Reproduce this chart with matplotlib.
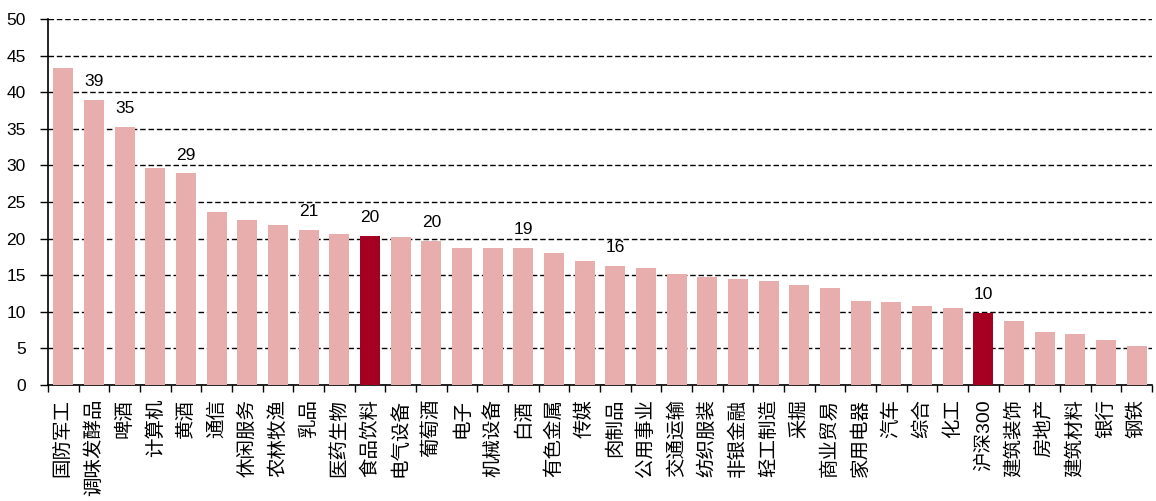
import matplotlib
matplotlib.use("Agg")
import matplotlib.pyplot as plt
from matplotlib import font_manager
import numpy as np

names = {f.name for f in font_manager.fontManager.ttflist}
if 'Liberation Sans Narrow' in names:
    num_font, num_size = 'Liberation Sans Narrow', 14
else:
    num_font, num_size = 'Liberation Sans', 12.5
plt.rcParams['font.family'] = [num_font, 'Noto Sans CJK SC']

# industry PE values
industries = ['国防军工', '调味发酵品', '啤酒', '计算机', '黄酒', '通信', '休闲服务', '农林牧渔',
              '乳品', '医药生物', '食品饮料', '电气设备', '葡萄酒', '电子', '机械设备', '白酒',
              '有色金属', '传媒', '肉制品', '公用事业', '交通运输', '纺织服装', '非银金融',
              '轻工制造', '采掘', '商业贸易', '家用电器', '汽车', '综合', '化工', '沪深300',
              '建筑装饰', '房地产', '建筑材料', '银行', '钢铁']
values = [43.3, 38.9, 35.2, 29.7, 28.9, 23.7, 22.5, 21.9, 21.2, 20.7, 20.4, 20.2, 19.7,
          18.7, 18.7, 18.7, 18.0, 17.0, 16.3, 16.0, 15.1, 14.8, 14.5, 14.2, 13.6, 13.3,
          11.5, 11.3, 10.8, 10.5, 9.8, 8.8, 7.3, 7.0, 6.1, 5.3]
highlight = ['食品饮料', '沪深300']
labelled = {'调味发酵品': '39', '啤酒': '35', '黄酒': '29', '乳品': '21', '食品饮料': '20',
            '葡萄酒': '20', '白酒': '19', '肉制品': '16', '沪深300': '10'}

fig = plt.figure(figsize=(11.56, 5.01), dpi=100)
ax = fig.add_axes([0.0415, 0.2315, 0.955, 0.7305])

x = np.arange(len(industries))
colors = ['#A50021' if n in highlight else '#E8ADAD' for n in industries]
ax.bar(x, values, width=0.66, color=colors, zorder=3)

for i, (n, v) in enumerate(zip(industries, values)):
    if n in labelled:
        ax.text(i, v + 1.5, labelled[n], ha='center', va='bottom', fontsize=num_size, zorder=4)

ax.set_ylim(0, 50)
ax.set_xlim(-0.5, len(industries) - 0.5)
ax.set_yticks(range(0, 51, 5))
ax.yaxis.grid(True, linestyle=(0, (4, 2)), color='black', linewidth=1.0, zorder=0)
ax.tick_params(axis='y', labelsize=num_size, length=6, width=1, direction='out', pad=10)

ax.set_xticks(x)
ax.set_xticklabels(industries, rotation=90, fontsize=14,
                   family=[num_font, 'Noto Sans CJK SC'])
ax.set_xticks(np.arange(-0.5, len(industries), 1), minor=True)
ax.tick_params(axis='x', which='major', length=0, pad=10)
ax.tick_params(axis='x', which='minor', length=5, width=1, direction='out')

for s in ['top', 'right']:
    ax.spines[s].set_visible(False)
ax.spines['left'].set_linewidth(1.2)
ax.spines['bottom'].set_linewidth(1.2)

fig.savefig('out.png', dpi=100)
